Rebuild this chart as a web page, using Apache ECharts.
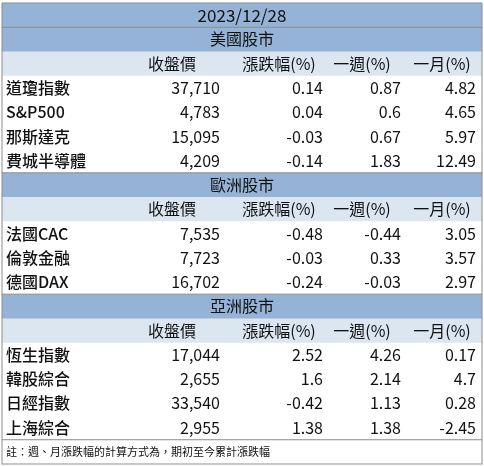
<!DOCTYPE html>
<html><head><meta charset="utf-8">
<script src="https://cdn.jsdelivr.net/npm/echarts@6/dist/echarts.min.js"></script>
<style>html,body{margin:0;padding:0;background:#fff}#c{width:484px;height:466px}</style>
</head><body><div id="c"></div>
<script>
const title = '2023/12/28';
const headers = ['收盤價','漲跌幅(%)','一週(%)','一月(%)'];
const regions = ['美國股市','歐洲股市','亞洲股市'];
const usNames = ['道瓊指數','S&P500','那斯達克','費城半導體'];
const usClose = [37710,4783,15095,4209];
const usChg = [0.14,0.04,-0.03,-0.14];
const usWk = [0.87,0.6,0.67,1.83];
const usMo = [4.82,4.65,5.97,12.49];
const euNames = ['法國CAC','倫敦金融','德國DAX'];
const euClose = [7535,7723,16702];
const euChg = [-0.48,-0.03,-0.24];
const euWk = [-0.44,0.33,-0.03];
const euMo = [3.05,3.57,2.97];
const asNames = ['恆生指數','韓股綜合','日經指數','上海綜合'];
const asClose = [17044,2655,33540,2955];
const asChg = [2.52,1.6,-0.42,1.38];
const asWk = [4.26,2.14,1.13,1.38];
const asMo = [0.17,4.7,0.28,-2.45];
const note = '註：週、月漲跌幅的計算方式為，期初至今累計漲跌幅';

const groups = [
  [regions[0], usNames, usClose, usChg, usWk, usMo],
  [regions[1], euNames, euClose, euChg, euWk, euMo],
  [regions[2], asNames, asClose, asChg, asWk, asMo]
];
const rows = [{t:'title', text:title}];
groups.forEach(g => {
  rows.push({t:'region', text:g[0]});
  rows.push({t:'hdr'});
  g[1].forEach((n,i) => rows.push({t:'data', cells:[n, g[2][i].toLocaleString('en-US'), String(g[3][i]), String(g[4][i]), String(g[5][i])]}));
});
rows.push({t:'note', text:note});

const colEdges = [0,122,224,327,405,480];
const hdrCenters = [170,277,360,440];
const FONT = '"Noto Sans CJK TC","Noto Sans",sans-serif';
const BLUE = '#95b3d7', LIGHT = '#dce6f1', LINE = '#8c8c8c';

const chart = echarts.init(document.getElementById('c'));
chart.setOption({
  animation:false,
  grid:{left:2,right:2,top:3,bottom:2},
  xAxis:{type:'value',min:0,max:480,show:false},
  yAxis:{type:'category',inverse:true,show:false,data:rows.map((r,i)=>String(i))},
  series:[{
    type:'custom',
    data:rows.map((r,i)=>[0,i]),
    renderItem:(params, api) => {
      const r = rows[api.value(1)];
      const c = api.coord([0, api.value(1)]);
      const h = api.size([0,1])[1];
      const x0 = api.coord([0,0])[0], x1 = api.coord([480,0])[0];
      const top = c[1]-h/2, cy = c[1];
      const X = v => api.coord([v,0])[0];
      const ch = [];
      let fill = '#fff';
      if (r.t==='title'||r.t==='region') fill = BLUE;
      else if (r.t==='hdr') fill = LIGHT;
      ch.push({type:'rect',shape:{x:x0,y:top,width:x1-x0,height:h+0.5},style:{fill:fill}});
      const txt = (s,x,align,size,w) => ch.push({type:'text',x:x,y:cy,style:{text:s,align:align,verticalAlign:'middle',font:`${w||'normal'} ${size||16}px ${FONT}`,fill:'#111'}});
      if (r.t==='title') txt(r.text,(x0+x1)/2,'center',17);
      else if (r.t==='region') txt(r.text,(x0+x1)/2,'center',16);
      else if (r.t==='hdr') headers.forEach((s,i)=>txt(s,X(hdrCenters[i]),'center',16));
      else if (r.t==='data') {
        txt(r.cells[0],X(4),'left',16,'500');
        for (let k=1;k<5;k++) txt(r.cells[k],X(colEdges[k+1]-6),'right',16);
      } else txt(r.text,X(4),'left',11);
      if (r.t==='region'||r.t==='note'||r.t==='title') ch.push({type:'line',shape:{x1:x0,y1:top,x2:x1,y2:top},style:{stroke:LINE,lineWidth:1}});
      if (r.t==='note') {
        const bot = top+h;
        ch.push({type:'line',shape:{x1:x0,y1:bot,x2:x1,y2:bot},style:{stroke:LINE,lineWidth:1}});
      }
      ch.push({type:'line',shape:{x1:x0,y1:top,x2:x0,y2:top+h+0.5},style:{stroke:LINE,lineWidth:1}});
      ch.push({type:'line',shape:{x1:x1,y1:top,x2:x1,y2:top+h+0.5},style:{stroke:LINE,lineWidth:1}});
      return {type:'group',children:ch};
    }
  }]
});
</script></body></html>
